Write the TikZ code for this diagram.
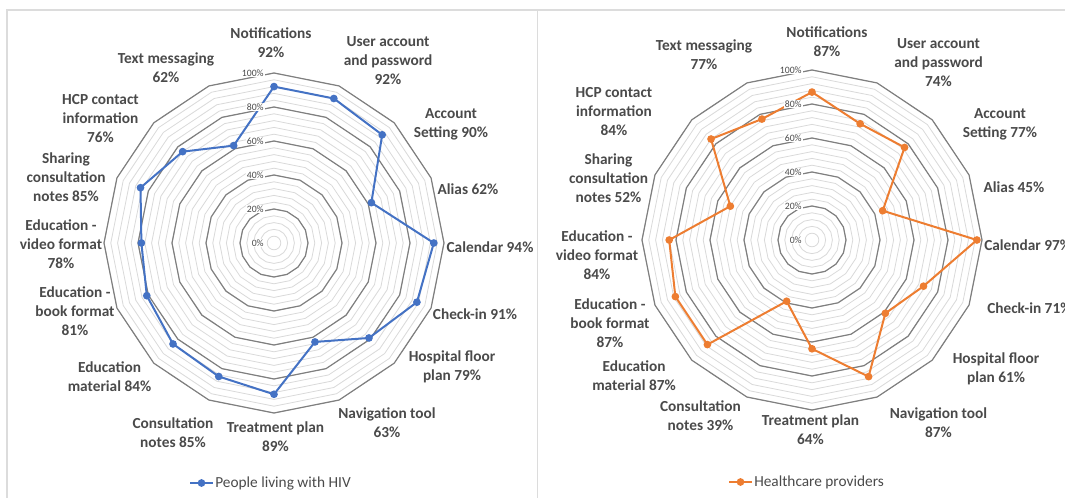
\documentclass[tikz,border=0pt]{standalone}
\usepackage{fontspec}
\setmainfont{Carlito}
\usepackage{xcolor}
\usepackage{tikz}
\definecolor{hivblue}{HTML}{4472C4}
\definecolor{hcporange}{HTML}{ED7D31}
\definecolor{txtgray}{HTML}{4A4A4A}
\definecolor{majgray}{HTML}{7F7F7F}
\definecolor{mingray}{HTML}{D9D9D9}
\definecolor{framegray}{HTML}{DCDCDC}
\begin{document}
\begin{tikzpicture}[x=0.75pt,y=-0.75pt,
  lbl/.style={align=center,text=txtgray,inner sep=0pt,
    font=\fontsize{11.5}{14.25}\selectfont\bfseries},
  legendtxt/.style={anchor=west,text=txtgray,inner sep=0pt,
    font=\fontsize{11.5}{14.25}\selectfont},
  tick/.style={anchor=east,text=txtgray,fill=white,inner sep=0.8pt,
    font=\fontsize{7.3}{8}\selectfont},
  minorgrid/.style={mingray,line width=0.6pt},
  majorgrid/.style={majgray,line width=0.9pt},
  series/.style={line width=1.5pt,line join=round}]
\useasboundingbox (0,0) rectangle (1065,498);
\clip (0,0) rectangle (1065,498);
%
\draw [framegray,line width=1pt] (7,498) -- (7,10) -- (1065,10);
\draw [framegray,line width=1pt] (537.5,10) -- (537.5,498);
%% people living with HIV
\begin{scope}[shift={(274,243)}]
\foreach \k in {1,...,25}
  \draw [minorgrid] (-90:{6.8*\k}) \foreach \a in {1,...,15} {-- ({22.5*\a-90}:{6.8*\k})} -- cycle;
\foreach \k in {1,...,5}
  \draw [majorgrid] (-90:{34*\k}) \foreach \a in {1,...,15} {-- ({22.5*\a-90}:{34*\k})} -- cycle;
\foreach \v [count=\i] in {92,92,90,62,94,91,79,63,89,85,84,81,78,85,76,62}
  \coordinate (b\i) at ({22.5*(\i-1)-90}:{1.7*\v});
\draw [series,hivblue] (b1) \foreach \i in {2,...,16} {-- (b\i)} -- cycle;
\foreach \i in {1,...,16}
  \fill [hivblue] (b\i) circle [radius=2.9pt];
\foreach \t [count=\k from 0] in {0,20,40,60,80,100}
  \node (bt\k) at (-9,{-34*\k}) [tick] {\t\%};
\end{scope}
%
\node (bl1) at (271,43) [lbl] {Notifications\\92\%};
\node (bl2) at (388,61) [lbl] {User account\\and password\\92\%};
\node (bl3) at (451,124.5) [lbl] {Account\\Setting 90\%};
\node (bl4) at (468,189) [lbl] {Alias 62\%};
\node (bl5) at (490,247) [lbl] {Calendar 94\%};
\node (bl6) at (475,314) [lbl] {Check-in 91\%};
\node (bl7) at (452,367) [lbl] {Hospital floor\\plan 79\%};
\node (bl8) at (387,422.5) [lbl] {Navigation tool\\63\%};
\node (bl9) at (275.5,436.5) [lbl] {Treatment plan\\89\%};
\node (bl10) at (173,432.5) [lbl] {Consultation\\notes 85\%};
\node (bl11) at (109.5,377) [lbl] {Education\\material 84\%};
\node (bl12) at (75,311) [lbl] {Education -\\book format\\81\%};
\node (bl13) at (61,244.5) [lbl] {Education -\\video format\\78\%};
\node (bl14) at (66,177.5) [lbl] {Sharing\\consultation\\notes 85\%};
\node (bl15) at (100.5,118.5) [lbl] {HCP contact\\information\\76\%};
\node (bl16) at (166,68) [lbl] {Text messaging\\62\%};
%
\coordinate (bka) at (190,483);
\coordinate (bkb) at (213,483);
\draw [series,hivblue] (bka) -- (bkb);
\fill [hivblue] (201.5,483) circle [radius=2.9pt];
\node (bkt) at (215,483) [legendtxt] {People living with HIV};
%% healthcare providers
\begin{scope}[shift={(812,240)}]
\foreach \k in {1,...,25}
  \draw [minorgrid] (-90:{6.8*\k}) \foreach \a in {1,...,15} {-- ({22.5*\a-90}:{6.8*\k})} -- cycle;
\foreach \k in {1,...,5}
  \draw [majorgrid] (-90:{34*\k}) \foreach \a in {1,...,15} {-- ({22.5*\a-90}:{34*\k})} -- cycle;
\foreach \v [count=\i] in {87,74,77,45,97,71,61,87,64,39,87,87,84,52,84,77}
  \coordinate (h\i) at ({22.5*(\i-1)-90}:{1.7*\v});
\draw [series,hcporange] (h1) \foreach \i in {2,...,16} {-- (h\i)} -- cycle;
\foreach \i in {1,...,16}
  \fill [hcporange] (h\i) circle [radius=2.9pt];
\foreach \t [count=\k from 0] in {0,20,40,60,80,100}
  \node (ht\k) at (-9,{-34*\k}) [tick] {\t\%};
\end{scope}
%
\node (hl1) at (827,41.5) [lbl] {Notifications\\87\%};
\node (hl2) at (938.5,63) [lbl] {User account\\and password\\74\%};
\node (hl3) at (1000,124.5) [lbl] {Account\\Setting 77\%};
\node (hl4) at (1014,187) [lbl] {Alias 45\%};
\node (hl5) at (984,245) [lbl,anchor=west] {Calendar 97\%};
\node (hl6) at (987,308) [lbl,anchor=west] {Check-in 71\%};
\node (hl7) at (996,368.5) [lbl] {Hospital floor\\plan 61\%};
\node (hl8) at (938.5,422.5) [lbl] {Navigation tool\\87\%};
\node (hl9) at (810.5,430) [lbl] {Treatment plan\\64\%};
\node (hl10) at (700.5,415.5) [lbl] {Consultation\\notes 39\%};
\node (hl11) at (634,375.5) [lbl] {Education\\material 87\%};
\node (hl12) at (610,323.5) [lbl] {Education -\\book format\\87\%};
\node (hl13) at (597,255.5) [lbl] {Education -\\video format\\84\%};
\node (hl14) at (608.5,178.5) [lbl] {Sharing\\consultation\\notes 52\%};
\node (hl15) at (614,111.5) [lbl] {HCP contact\\information\\84\%};
\node (hl16) at (704,54.5) [lbl] {Text messaging\\77\%};
%
\coordinate (hka) at (729,482);
\coordinate (hkb) at (752,482);
\draw [series,hcporange] (hka) -- (hkb);
\fill [hcporange] (740.5,482) circle [radius=2.9pt];
\node (hkt) at (754,482) [legendtxt] {Healthcare providers};
\end{tikzpicture}
\end{document}
